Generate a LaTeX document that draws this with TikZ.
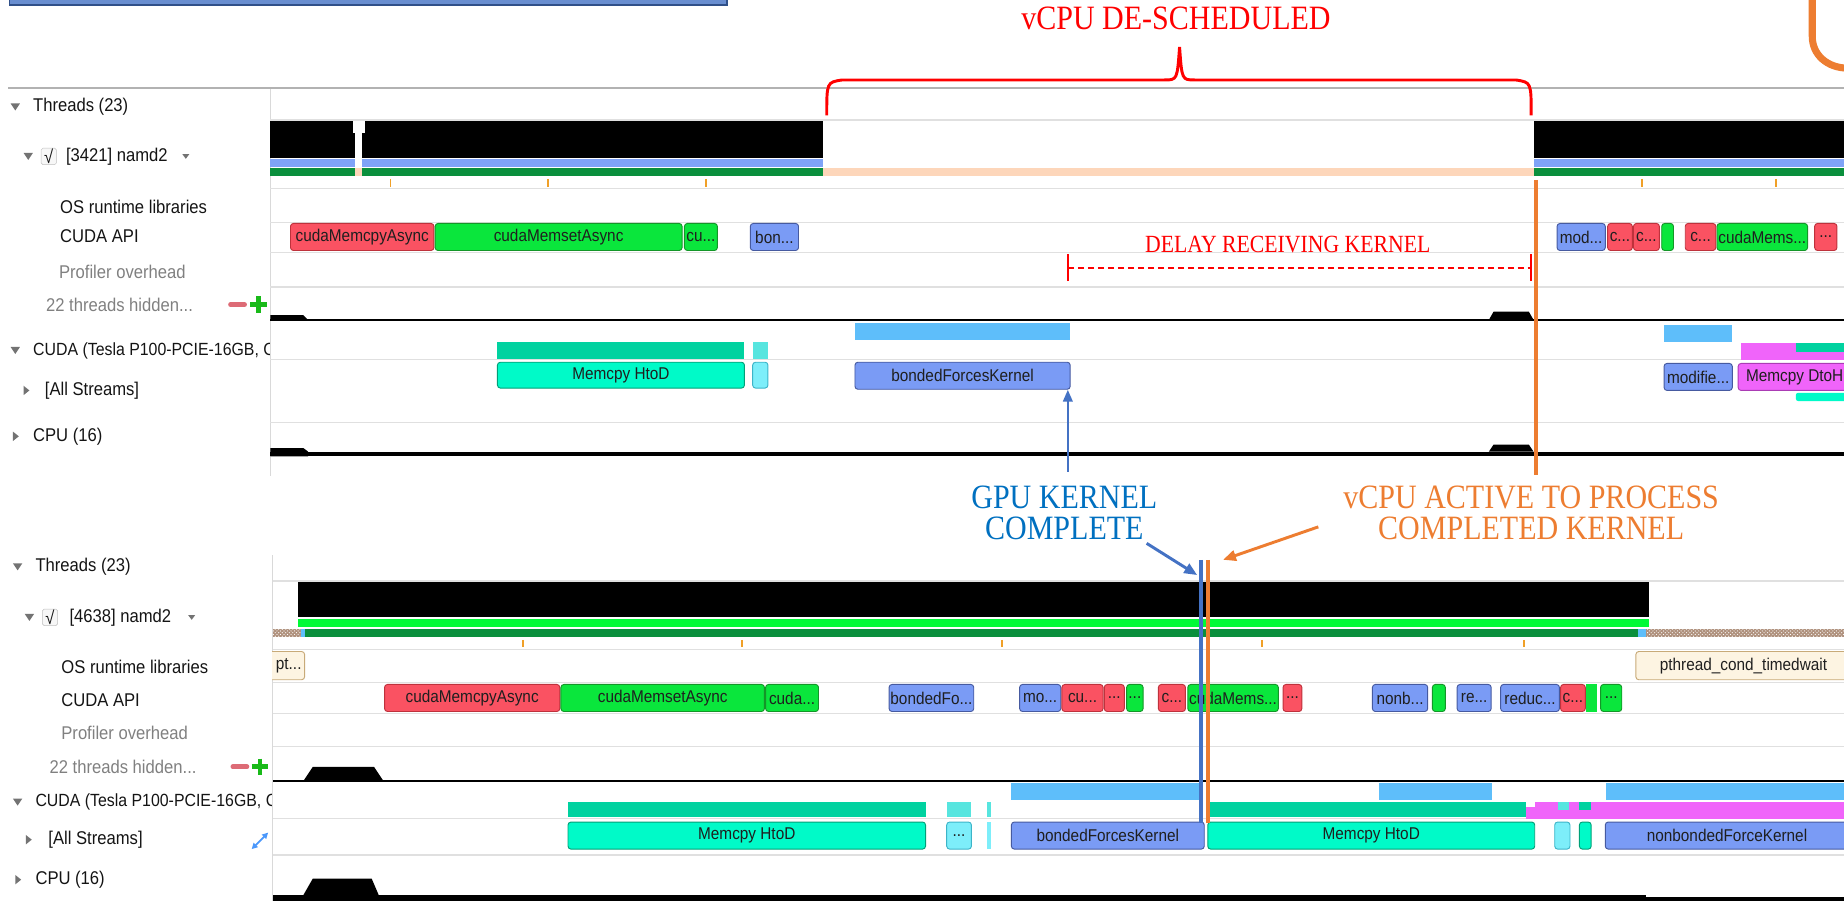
\documentclass[tikz,border=0pt]{standalone}
\usepackage{fontspec}
\newfontfamily\uifont[FakeStretch=0.9]{Liberation Sans}
\newfontfamily\notefont[FakeStretch=0.88]{Liberation Serif}
\usetikzlibrary{arrows.meta,patterns}

% boîte de la frise : options, nom, style, x1, x2, y1, y2, texte
\newcommand{\tlbox}[8][]{%
  \node[#3, minimum width={(#5-#4)*1pt}, minimum height={(#7-#6)*1pt}, #1]
    (#2) at ({(#4+#5)/2},{(#6+#7)/2}) {#8};}
% barre pleine : couleur, x1, x2, y1, y2
\newcommand{\tlbar}[5]{\fill[#1] (#2,#4) rectangle (#3,#5);}

\begin{document}
\begin{tikzpicture}[x=1pt, y=-1pt,
  ui/.style={font=\uifont\fontsize{15.7}{18}\selectfont, text=black!92, inner sep=0pt, anchor=west},
  uigray/.style={ui, text=black!50},
  apibox/.style={draw, rounded corners=2.5pt, line width=0.8pt, inner sep=0pt,
    text=black!88, font=\uifont\fontsize{14.5}{16}\selectfont},
  redbox/.style={apibox, fill=apired, draw=apiredd},
  greenbox/.style={apibox, fill=apigreen, draw=apigreend},
  bluebox/.style={apibox, fill=kblue, draw=kblued},
  htodbox/.style={apibox, fill=htod, draw=htodd},
  cyanbox/.style={apibox, fill=cyanb, draw=cyanbd},
  osbox/.style={apibox, fill=oscream, draw=osdraw},
  dtohbox/.style={apibox, fill=dtoh, draw=dtohd},
  sepline/.style={draw=black!12, line width=1pt},
  tickmark/.style={draw=tick, line width=1.5pt},
  note/.style={font=\notefont\fontsize{29}{27}\selectfont, align=center, inner sep=0pt},
  tri/.style={fill=black!55}]

  % Définition des couleurs
  \definecolor{apired}{RGB}{250,82,98}
  \definecolor{apiredd}{RGB}{190,50,60}
  \definecolor{apigreen}{RGB}{10,230,60}
  \definecolor{apigreend}{RGB}{20,150,40}
  \definecolor{kblue}{RGB}{122,155,245}
  \definecolor{kblued}{RGB}{70,90,160}
  \definecolor{htod}{RGB}{0,250,200}
  \definecolor{htodd}{RGB}{0,160,120}
  \definecolor{tealbar}{RGB}{0,210,160}
  \definecolor{cyanb}{RGB}{125,238,250}
  \definecolor{cyanbd}{RGB}{60,180,200}
  \definecolor{lblue}{RGB}{94,190,250}
  \definecolor{dtoh}{RGB}{240,100,250}
  \definecolor{dtohd}{RGB}{170,60,180}
  \definecolor{oscream}{RGB}{253,244,226}
  \definecolor{osdraw}{RGB}{200,170,120}
  \definecolor{thrblue}{RGB}{127,163,247}
  \definecolor{thrgreen}{RGB}{10,143,60}
  \definecolor{thrlime}{RGB}{0,250,55}
  \definecolor{peach}{RGB}{253,214,186}
  \definecolor{tick}{RGB}{240,160,40}
  \definecolor{hatch}{RGB}{175,145,125}
  \definecolor{annorange}{RGB}{237,125,49}
  \definecolor{annblue}{RGB}{0,112,192}
  \definecolor{arrblue}{RGB}{68,114,196}
  \definecolor{annred}{RGB}{255,0,0}

  \useasboundingbox (0,0) rectangle (1568,766);

  % --- Bandeau du haut ---
  \draw[fill=arrblue!80, draw=arrblue!70!black, line width=1.5pt] (8,-4) rectangle (618,4);
  \draw[black!30, line width=2pt] (7,75) -- (1568,75);
  \draw[annorange, line width=6pt] (1541,-4) -- (1541,31) .. controls (1541,46) and (1553,58) .. (1572,58);

  % ================= PANNEAU DU HAUT =================
  \draw[black!15, line width=1pt] (230,76) -- (230,405);
  \foreach \yy in {102,160,189,215,244,306,359}
    \draw[sepline] (230,\yy) -- (1568,\yy);

  % Libellés de gauche
  \fill[tri] (9,88) -- (17,88) -- (13,94) -- cycle;
  \node[ui] (thrA) at (28,91) {Threads (23)};
  \fill[tri] (20,130) -- (28,130) -- (24,136) -- cycle;
  \draw[black!25, fill=black!3, rounded corners=1.5pt] (35,126) rectangle (48,140);
  \node[ui, anchor=center] (chkA) at (41.5,133) {√};
  \node[ui] (namdA) at (56,133) {[3421] namd2};
  \fill[tri] (155,131) -- (161,131) -- (158,135) -- cycle;
  \node[ui] (osA) at (51,176) {OS runtime libraries};
  \node[ui] (apiA) at (51,201) {CUDA API};
  \node[uigray] (profA) at (50,231) {Profiler overhead};
  \node[uigray] (hidA) at (39,259) {22 threads hidden...};
  \draw[apired!85!black!80, line width=4pt, line cap=round] (196,259) -- (208,259);
  \draw[green!70!black!90, line width=4pt] (213,259) -- (227,259) (220,252) -- (220,266);
  \fill[tri] (9,295) -- (17,295) -- (13,301) -- cycle;
  \begin{scope}
    \clip (0,280) rectangle (229,320);
    \node[ui, font=\uifont\fontsize{15}{17}\selectfont] (cudaA) at (28,298) {CUDA (Tesla P100-PCIE-16GB, C};
  \end{scope}
  \fill[tri] (20,328) -- (20,336) -- (25,332) -- cycle;
  \node[ui] (strA) at (38,332) {[All Streams]};
  \fill[tri] (11,367) -- (11,375) -- (16,371) -- cycle;
  \node[ui] (cpuA) at (28,371) {CPU (16)};

  % Fil namd2
  \tlbar{black}{230}{700}{103}{134}
  \tlbar{black}{1304}{1568}{103}{134}
  \tlbar{thrblue}{230}{700}{135}{142}
  \tlbar{thrblue}{1304}{1568}{135}{142}
  \tlbar{thrgreen}{230}{700}{143}{150}
  \tlbar{peach}{700}{1304}{143}{150}
  \tlbar{thrgreen}{1304}{1568}{143}{150}
  \tlbar{white}{302}{308}{103}{142}
  \tlbar{white}{300}{310}{103}{113}
  \tlbar{peach}{302}{308}{143}{150}
  \foreach \xx in {332,466,600,1396,1510}
    \draw[tickmark] (\xx,152) -- (\xx,159);

  % CUDA API
  \tlbox{ta1}{redbox}{247}{369}{190}{213}{cudaMemcpyAsync}
  \tlbox{ta2}{greenbox}{370}{580}{190}{213}{cudaMemsetAsync}
  \tlbox{ta3}{greenbox}{582}{610}{190}{213}{cu...}
  \tlbox{ta4}{bluebox}{638}{679}{190}{213}{bon...}
  \tlbox{ta5}{bluebox}{1324}{1365}{190}{213}{mod...}
  \tlbox{ta6}{redbox}{1367}{1388}{190}{213}{c...}
  \tlbox{ta7}{redbox}{1389}{1411}{190}{213}{c...}
  \tlbox{ta8}{greenbox}{1413}{1423}{190}{213}{}
  \tlbox{ta9}{redbox}{1433}{1459}{190}{213}{c...}
  \tlbox{ta10}{greenbox}{1460}{1537}{190}{213}{cudaMems...}
  \tlbox{ta11}{redbox}{1543}{1562}{190}{213}{...}

  % Fils cachés
  \draw[black, line width=1.5pt] (230,272) -- (1568,272);
  \fill (230,272) -- (230,268) -- (258,268) -- (262,272) -- cycle;
  \fill (1266,272) -- (1270,265) -- (1300,265) -- (1304,272) -- cycle;

  % CUDA
  \tlbar{tealbar}{423}{633}{291}{305}
  \tlbar{cyanb!70!tealbar}{640}{653}{291}{305}
  \tlbar{lblue}{727}{910}{275}{289}
  \tlbar{lblue}{1415}{1473}{276}{291}
  \tlbar{dtoh}{1480}{1568}{292}{306}
  \tlbar{tealbar}{1527}{1568}{292}{299}
  \tlbox{th1}{htodbox}{423}{633}{308}{330}{Memcpy HtoD}
  \tlbox{th2}{cyanbox}{640}{653}{308}{330}{}
  \tlbox{bfk}{bluebox}{727}{910}{308}{331}{bondedForcesKernel}
  \tlbox{tmk}{bluebox}{1415}{1473}{309}{332}{modifie...}
  \tlbox{tdh}{dtohbox}{1478}{1574}{309}{332}{Memcpy DtoH}
  \fill[htod, rounded corners=2pt] (1527,341) rectangle (1574,334);

  % CPU
  \fill (230,388) rectangle (1568,384);
  \fill (230,388) -- (230,381) -- (258,381) -- (262,384) -- (262,388) -- cycle;
  \fill (1266,384) -- (1270,378) -- (1300,378) -- (1304,384) -- cycle;

  % --- Annotations ROUGES ---
  \node[font=\notefont\fontsize{29}{31}\selectfont, text=annred, inner sep=0pt] (desched) at (1000,16) {vCPU DE-SCHEDULED};
  \draw[annred, line width=2.5pt] (703,98) .. controls (703,70) .. (716,68) -- (990,68)
    .. controls (1001,68) .. (1003,40) .. controls (1005,68) .. (1016,68) -- (1289,68)
    .. controls (1302,70) .. (1302,98);
  \node[font=\notefont\fontsize{21}{23}\selectfont, text=annred, inner sep=0pt] (delay) at (1095,208) {DELAY RECEIVING KERNEL};
  \coordinate (dl) at (908,228);
  \coordinate (dr) at (1302,228);
  \draw[annred, line width=2pt, dash pattern=on 5pt off 3.5pt] (dl) -- (dr);
  \draw[annred, line width=2pt] ([yshift=-11pt]dl) -- ([yshift=12pt]dl) ([yshift=-11pt]dr) -- ([yshift=12pt]dr);

  % --- Lignes du haut ---
  \coordinate (vtop) at (1306,153);
  \coordinate (vbot) at (1306,404);
  \draw[annorange, line width=3.5pt] (vtop) -- (vbot);
  \coordinate (gpuTail) at (908,401);
  \draw[arrblue, line width=2pt, -{Triangle[length=10pt,width=8pt]}] (gpuTail) -- (gpuTail |- bfk.south);

  % --- Annotations du milieu ---
  \node[note, text=annblue] (gpuNote) at (905,436) {GPU KERNEL\\COMPLETE};
  \node[note, text=annorange] (cpuNote) at (1302,436) {vCPU ACTIVE TO PROCESS\\COMPLETED KERNEL};

  % ================= PANNEAU DU BAS =================
  \draw[black!15, line width=1pt] (232,472) -- (232,766);
  \foreach \yy in {494,552,580,607,635,696,727}
    \draw[sepline] (232,\yy) -- (1568,\yy);

  % Libellés de gauche
  \fill[tri] (11,479) -- (19,479) -- (15,485) -- cycle;
  \node[ui] (thrB) at (30,482) {Threads (23)};
  \fill[tri] (21,522) -- (29,522) -- (25,528) -- cycle;
  \draw[black!25, fill=black!3, rounded corners=1.5pt] (36,518) rectangle (49,532);
  \node[ui, anchor=center] (chkB) at (42.5,525) {√};
  \node[ui] (namdB) at (59,525) {[4638] namd2};
  \fill[tri] (160,523) -- (166,523) -- (163,527) -- cycle;
  \node[ui] (osB) at (52,567) {OS runtime libraries};
  \node[ui] (apiB) at (52,595) {CUDA API};
  \node[uigray] (profB) at (52,623) {Profiler overhead};
  \node[uigray] (hidB) at (42,652) {22 threads hidden...};
  \draw[apired!85!black!80, line width=4pt, line cap=round] (198,652) -- (210,652);
  \draw[green!70!black!90, line width=4pt] (214,652) -- (228,652) (221,645) -- (221,659);
  \fill[tri] (11,679) -- (19,679) -- (15,685) -- cycle;
  \begin{scope}
    \clip (0,665) rectangle (231,700);
    \node[ui, font=\uifont\fontsize{15}{17}\selectfont] (cudaB) at (30,682) {CUDA (Tesla P100-PCIE-16GB, C};
  \end{scope}
  \fill[tri] (22,710) -- (22,718) -- (27,714) -- cycle;
  \node[ui] (strB) at (41,714) {[All Streams]};
  \draw[lblue!80!blue, line width=1.5pt, {Triangle[length=5pt,width=5pt]}-{Triangle[length=5pt,width=5pt]}] (214,722) -- (228,708);
  \fill[tri] (13,744) -- (13,752) -- (18,748) -- cycle;
  \node[ui] (cpuB) at (30,748) {CPU (16)};

  % Fil namd2
  \tlbar{black}{253}{1402}{495}{525}
  \tlbar{thrlime}{253}{1402}{526}{533}
  \tlbar{thrgreen}{259}{1393}{535}{542}
  \tlbar{hatch}{232}{256}{535}{542}
  \tlbar{hatch}{1400}{1568}{535}{542}
  \fill[pattern=crosshatch dots, pattern color=white] (232,535) rectangle (256,542);
  \fill[pattern=crosshatch dots, pattern color=white] (1400,535) rectangle (1568,542);
  \tlbar{lblue}{256}{259}{535}{542}
  \tlbar{lblue}{1393}{1400}{535}{542}
  \foreach \xx in {445,631,852,1073,1296}
    \draw[tickmark] (\xx,544) -- (\xx,550);

  % OS runtime
  \tlbox{os1}{osbox}{226}{259}{554}{578}{\hspace*{6pt}pt...}
  \tlbox{os2}{osbox}{1391}{1574}{554}{578}{pthread\_cond\_timedwait}
  \fill[white] (200,550) rectangle (231,582);

  % CUDA API
  \tlbox{ba1}{redbox}{327}{476}{582}{605}{cudaMemcpyAsync}
  \tlbox{ba2}{greenbox}{477}{650}{582}{605}{cudaMemsetAsync}
  \tlbox{ba3}{greenbox}{651}{696}{582}{605}{cuda...}
  \tlbox{ba4}{bluebox}{756}{828}{582}{605}{bondedFo...}
  \tlbox{ba5}{bluebox}{867}{902}{582}{605}{mo...}
  \tlbox{ba6}{redbox}{903}{938}{582}{605}{cu...}
  \tlbox{ba7}{redbox}{939}{956}{582}{605}{...}
  \tlbox{ba8}{greenbox}{958}{972}{582}{605}{...}
  \tlbox{ba9}{redbox}{985}{1008}{582}{605}{c...}
  \tlbox{ba10}{greenbox}{1010}{1087}{582}{605}{cudaMems...}
  \tlbox{ba11}{redbox}{1091}{1107}{582}{605}{...}
  \tlbox{ba12}{bluebox}{1167}{1214}{582}{605}{nonb...}
  \tlbox{ba13}{greenbox}{1218}{1229}{582}{605}{}
  \tlbox{ba14}{bluebox}{1239}{1268}{582}{605}{re...}
  \tlbox{ba15}{bluebox}{1276}{1326}{582}{605}{reduc...}
  \tlbox{ba16}{redbox}{1327}{1348}{582}{605}{c...}
  \tlbar{apigreen}{1349}{1358}{582}{605}
  \tlbox{ba18}{greenbox}{1361}{1379}{582}{605}{...}

  % Fils cachés
  \draw[black, line width=1.5pt] (232,664) -- (1568,664);
  \fill (258,664) -- (266,652) -- (318,652) -- (326,664) -- cycle;

  % CUDA
  \tlbar{lblue}{860}{1021}{666}{680}
  \tlbar{lblue}{1173}{1269}{666}{680}
  \tlbar{lblue}{1366}{1568}{666}{680}
  \tlbar{tealbar}{483}{787}{682}{695}
  \tlbar{cyanb!70!tealbar}{805}{826}{682}{695}
  \tlbar{cyanb!70!tealbar}{839}{843}{682}{695}
  \tlbar{tealbar}{1027}{1298}{682}{695}
  \tlbar{dtoh}{1298}{1568}{686}{696}
  \tlbar{dtoh}{1305}{1568}{682}{686}
  \tlbar{cyanb!70!tealbar}{1325}{1334}{682}{689}
  \tlbar{tealbar}{1343}{1353}{682}{689}
  \tlbox{bm1}{htodbox}{483}{787}{699}{722}{Memcpy HtoD}
  \tlbox{bm2}{cyanbox}{805}{826}{699}{722}{...}
  \tlbar{cyanb}{839}{843}{699}{722}
  \tlbox{bk}{bluebox}{860}{1024}{699}{722}{bondedForcesKernel}
  \tlbox{bm3}{htodbox}{1027}{1305}{699}{722}{Memcpy HtoD}
  \tlbox{bm4}{cyanbox}{1322}{1335}{699}{722}{}
  \tlbox{bm5}{htodbox}{1343}{1353}{699}{722}{}
  \tlbox{nbk}{bluebox}{1365}{1572}{699}{722}{nonbondedForceKernel}

  % CPU
  \fill (232,766) rectangle (1400,761);
  \fill (1400,766) rectangle (1568,763);
  \fill (258,761) -- (266,747) -- (316,747) -- (322,761) -- cycle;

  % --- Lignes et flèches du bas ---
  \coordinate (kTop) at (1021,476);
  \coordinate (kBot) at (1021,700);
  \coordinate (aTop) at (1027,476);
  \coordinate (aBot) at (1027,700);
  \draw[arrblue, line width=3.5pt] (kTop) -- (kBot);
  \draw[annorange, line width=3.5pt] (aTop) -- (aBot);
  \coordinate (gpuFrom) at (975,462);
  \coordinate (gpuTip) at (1018,489);
  \draw[arrblue, line width=2.5pt, -{Triangle[length=11pt,width=9pt]}] (gpuFrom) -- (gpuTip);
  \coordinate (cpuFrom) at (1121,448);
  \coordinate (cpuTip) at (1040,476);
  \draw[annorange, line width=2.5pt, -{Triangle[length=11pt,width=9pt]}] (cpuFrom) -- (cpuTip);

\end{tikzpicture}
\end{document}
